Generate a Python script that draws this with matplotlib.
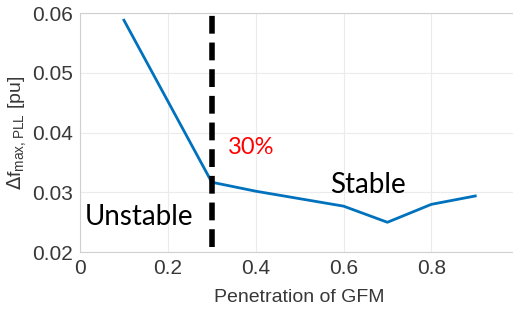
import matplotlib
matplotlib.use("Agg")
import matplotlib.pyplot as plt

# 数据
penetration = [0.1, 0.3, 0.4, 0.6, 0.7, 0.8, 0.9]
df_max_pll = [0.0588, 0.0317, 0.0302, 0.0277, 0.0250, 0.0280, 0.0294]
x_ticks = [0, 0.2, 0.4, 0.6, 0.8]
y_ticks = [0.02, 0.03, 0.04, 0.05, 0.06]
threshold = 0.3

plt.rcParams['font.family'] = ['Liberation Sans', 'DejaVu Sans']

fig = plt.figure(figsize=(5.13, 3.18), dpi=100)
ax = fig.add_axes([0.156, 0.207, 0.856, 0.752])

ax.plot(penetration, df_max_pll, color='#0072BD', lw=2)
ax.plot([threshold, threshold], [0.0208, 0.06], color='black', lw=4,
        linestyle=(0, (3.2, 1.6)))

ax.text(0.337, 0.0364, "30%", color='red', fontsize=17, family='Lato')
ax.text(0.01, 0.0246, "Unstable", color='black', fontsize=20, family='Lato')
ax.text(0.57, 0.0299, "Stable", color='black', fontsize=20, family='Lato')

ax.set_xlim(0, 1)
ax.set_ylim(0.02, 0.06)
ax.set_xticks(x_ticks)
ax.set_xticklabels(["0", "0.2", "0.4", "0.6", "0.8"])
ax.set_yticks(y_ticks)
ax.set_yticklabels(["0.02", "0.03", "0.04", "0.05", "0.06"])
ax.tick_params(labelsize=15, colors='#383838', length=0, pad=5)
ax.grid(True, color='#ebebeb', lw=0.8)
for s in ax.spines.values():
    s.set_color('#d0d0d0')
ax.spines['right'].set_visible(False)

ax.set_xlabel("Penetration of GFM", fontsize=14, color='#383838', labelpad=8)
ax.set_ylabel(r"$\Delta$f$_{\mathregular{max,PLL}}$ [pu]", fontsize=14,
              color='#383838', labelpad=2)

fig.savefig("out.png", dpi=100)
